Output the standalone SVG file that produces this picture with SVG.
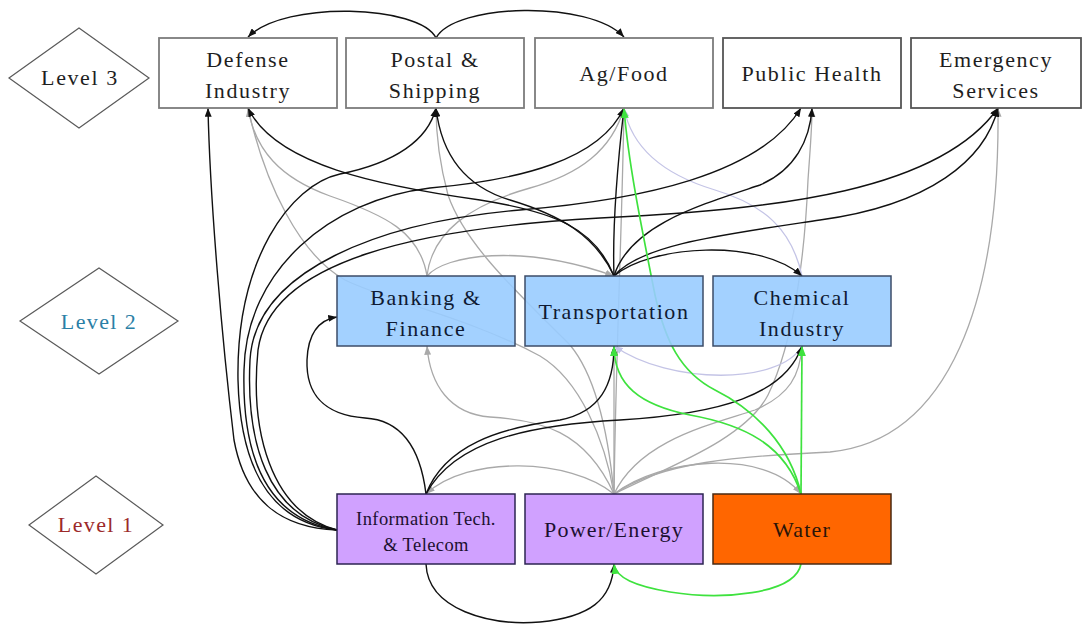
<svg xmlns="http://www.w3.org/2000/svg" width="1085" height="628" viewBox="0 0 1085 628">
  <style>
    text { font-family: "Liberation Serif", "Times New Roman", serif; text-anchor: middle; }
    .t3 { font-size: 22px; letter-spacing: 1.6px; fill: #1e1e1e; }
    .t2 { font-size: 22px; letter-spacing: 1.6px; fill: #0f1a33; }
    .t1 { font-size: 22px; letter-spacing: 1.2px; fill: #1c1030; }
    .tsm { font-size: 18.5px; letter-spacing: 0.4px; fill: #1c1030; }
    .lvl { fill: #ffffff; stroke: #5a5a5a; stroke-width: 1.2; }
    .b3 { fill: #ffffff; stroke: #7c7c7c; stroke-width: 1.8; }
    .b2 { fill: #99ccff; fill-opacity: 0.9; stroke: #3c4c68; stroke-width: 1.5; }
    .b1 { fill: #cc99ff; fill-opacity: 0.92; stroke: #2c2452; stroke-width: 1.5; }
    .bw { fill: #ff6600; stroke: #4a2a12; stroke-width: 1.5; }
    .e { fill: none; }
    .k { stroke: #111111; stroke-width: 1.4; marker-end: url(#ak); }
    .g { stroke: #a9a9a9; stroke-width: 1.3; marker-end: url(#ag); }
    .n { stroke: #3ee23e; stroke-width: 1.7; marker-end: url(#an); }
    .v { stroke: #c4c4e6; stroke-width: 1.3; marker-end: url(#av); }
  </style>
  <defs>
    <marker id="ak" viewBox="0 0 10 8" refX="10" refY="4" markerWidth="9" markerHeight="7" markerUnits="userSpaceOnUse" orient="auto">
      <path d="M0,0 L10,4 L0,8 z" fill="#111111"/>
    </marker>
    <marker id="ag" viewBox="0 0 10 8" refX="10" refY="4" markerWidth="9" markerHeight="7" markerUnits="userSpaceOnUse" orient="auto">
      <path d="M0,0 L10,4 L0,8 z" fill="#a9a9a9"/>
    </marker>
    <marker id="an" viewBox="0 0 10 8" refX="10" refY="4" markerWidth="10" markerHeight="8" markerUnits="userSpaceOnUse" orient="auto">
      <path d="M0,0 L10,4 L0,8 z" fill="#3ee23e"/>
    </marker>
    <marker id="av" viewBox="0 0 10 8" refX="10" refY="4" markerWidth="9" markerHeight="7" markerUnits="userSpaceOnUse" orient="auto">
      <path d="M0,0 L10,4 L0,8 z" fill="#c4c4e6"/>
    </marker>
  </defs>

  <rect width="1085" height="628" fill="#ffffff"/>

  <!-- dependency connectors -->
  <g id="connectors">
    <!-- gray: Power/Energy dependencies -->
    <path class="e g" d="M614,494 C605,440 580,380 540,356 C470,318 385,300 345,280 C300,255 265,185 248,108"/>
    <path class="e g" d="M614,494 C608,430 595,375 570,345 C520,295 465,245 448,195 C440,165 436,140 436,108"/>
    <path class="e g" d="M614,494 C585,430 540,420 490,417 C450,414 430,385 427,346"/>
    <path class="e g" d="M614,494 L614,346"/>
    <path class="e g" d="M614,494 C616,350 622,230 624,108"/>
    <path class="e g" d="M614,494 C640,440 710,425 755,410 C790,395 800,375 802,346"/>
    <path class="e g" d="M614,494 C660,458 765,448 801,494"/>
    <path class="e g" d="M614,494 C660,462 740,456 830,452 C950,440 1000,300 998,108"/>
    <path class="e g" d="M614,494 C665,468 745,440 768,395 C795,340 805,250 808,180 C810,150 812,130 812,108"/>
    <path class="e g" d="M614,494 C570,458 468,455 426,494"/>
    <!-- gray: Banking & Finance dependencies -->
    <path class="e g" d="M427,276 C420,232 385,215 330,196 C280,178 255,150 248,108"/>
    <path class="e g" d="M427,276 C432,232 470,205 530,188 C580,174 612,150 624,108"/>
    <path class="e g" d="M427,276 C445,255 520,243 614,276"/>
    <!-- lavender: Chemical Industry dependencies -->
    <path class="e v" d="M802,276 C792,230 765,205 715,190 C665,175 632,150 624,108"/>
    <path class="e v" d="M802,346 C780,385 670,385 614,346"/>
    <!-- black: Postal & Shipping across the top -->
    <path class="e k" d="M436,38 C420,5 285,0 248,37"/>
    <path class="e k" d="M436,38 C455,3 590,0 624,37"/>
    <!-- black: Information Tech. & Telecom (left side) -->
    <path class="e k" d="M337,530 C280,528 245,500 234,440 C222,340 210,200 208,108"/>
    <path class="e k" d="M337,530 C265,522 240,460 238,380 C236,260 290,185 340,174 C395,163 428,140 436,108"/>
    <path class="e k" d="M337,530 C262,518 242,450 244,370 C246,270 330,200 430,188 C520,180 600,160 624,108"/>
    <path class="e k" d="M337,530 C266,515 246,440 250,360 C255,270 380,222 520,210 C640,200 760,175 801,108"/>
    <path class="e k" d="M337,530 C270,512 250,430 258,350 C270,260 420,228 600,218 C780,210 940,190 998,108"/>
    <!-- black: Transportation (top) -->
    <path class="e k" d="M614,276 C595,228 555,212 480,200 C380,186 275,165 248,108"/>
    <path class="e k" d="M614,276 C595,235 560,215 510,200 C470,188 442,160 436,108"/>
    <path class="e k" d="M614,276 C612,220 618,160 624,108"/>
    <path class="e k" d="M614,276 C630,225 700,205 760,185 C795,170 810,140 812,108"/>
    <path class="e k" d="M614,276 C640,245 720,235 820,220 C930,205 985,160 998,108"/>
    <path class="e k" d="M614,276 C650,245 760,238 802,276"/>
    <!-- black: Information Tech. & Telecom (top and bottom) -->
    <path class="e k" d="M426,494 C420,445 400,420 365,418 C322,415 306,392 307,360 C308,335 318,320 337,317"/>
    <path class="e k" d="M426,494 C445,445 500,428 560,420 C600,412 614,385 614,346"/>
    <path class="e k" d="M426,494 C455,440 530,425 620,420 C720,414 785,395 802,346"/>
    <path class="e k" d="M426,564 C428,610 490,626 540,622 C590,617 612,600 614,564"/>
    <!-- green: Water -->
    <path class="e n" d="M801,494 L802,346"/>
    <path class="e n" d="M801,494 C785,445 745,425 690,415 C640,405 614,385 614,346"/>
    <path class="e n" d="M801,494 C790,445 755,410 715,390 C680,372 665,340 655,295 C640,220 628,160 624,108"/>
    <path class="e n" d="M801,564 C795,595 720,600 670,592 C635,586 616,578 614,564"/>
  </g>

  <!-- level markers -->
  <g id="level3">
    <polygon class="lvl" points="9,78 79,28 149,78 79,128"/>
    <text class="t3" x="80" y="85">Level 3</text>
  </g>
  <g id="level2">
    <polygon class="lvl" points="20,321 99,268 178,321 99,374"/>
    <text x="99" y="329" style="font-size:22px;letter-spacing:1.4px;fill:#2b7fa6">Level 2</text>
  </g>
  <g id="level1">
    <polygon class="lvl" points="29,525 96,476 163,525 96,574"/>
    <text x="96" y="532" style="font-size:22px;letter-spacing:1.4px;fill:#9c2a2a">Level 1</text>
  </g>

  <!-- level 3 sectors -->
  <g id="defense">
    <rect class="b3" x="159" y="38" width="178" height="70"/>
    <text class="t3" x="248" y="67">Defense</text>
    <text class="t3" x="248" y="98">Industry</text>
  </g>
  <g id="postal">
    <rect class="b3" x="346" y="38" width="178" height="70"/>
    <text class="t3" x="435" y="67">Postal &amp;</text>
    <text class="t3" x="435" y="98">Shipping</text>
  </g>
  <g id="agfood">
    <rect class="b3" x="535" y="38" width="178" height="70"/>
    <text class="t3" x="624" y="81">Ag/Food</text>
  </g>
  <g id="publichealth">
    <rect class="b3" x="723" y="38" width="178" height="70" style="stroke:#555"/>
    <text class="t3" x="812" y="81">Public Health</text>
  </g>
  <g id="emergency">
    <rect class="b3" x="911" y="38" width="170" height="70" style="stroke:#555"/>
    <text class="t3" x="996" y="67">Emergency</text>
    <text class="t3" x="996" y="98">Services</text>
  </g>

  <!-- level 2 sectors -->
  <g id="banking">
    <rect class="b2" x="337" y="276" width="178" height="70"/>
    <text class="t2" x="426" y="305">Banking &amp;</text>
    <text class="t2" x="426" y="336">Finance</text>
  </g>
  <g id="transportation">
    <rect class="b2" x="525" y="276" width="178" height="70"/>
    <text class="t2" x="614" y="319">Transportation</text>
  </g>
  <g id="chemical">
    <rect class="b2" x="713" y="276" width="178" height="70"/>
    <text class="t2" x="802" y="305">Chemical</text>
    <text class="t2" x="802" y="336">Industry</text>
  </g>

  <!-- level 1 sectors -->
  <g id="infotech">
    <rect class="b1" x="337" y="494" width="178" height="70"/>
    <text class="tsm" x="426" y="525">Information Tech.</text>
    <text class="tsm" x="426" y="551">&amp; Telecom</text>
  </g>
  <g id="power">
    <rect class="b1" x="525" y="494" width="178" height="70"/>
    <text class="t1" x="614" y="537">Power/Energy</text>
  </g>
  <g id="water">
    <rect class="bw" x="713" y="494" width="178" height="70"/>
    <text class="t1" x="802" y="537" style="fill:#2a1408">Water</text>
  </g>
</svg>
